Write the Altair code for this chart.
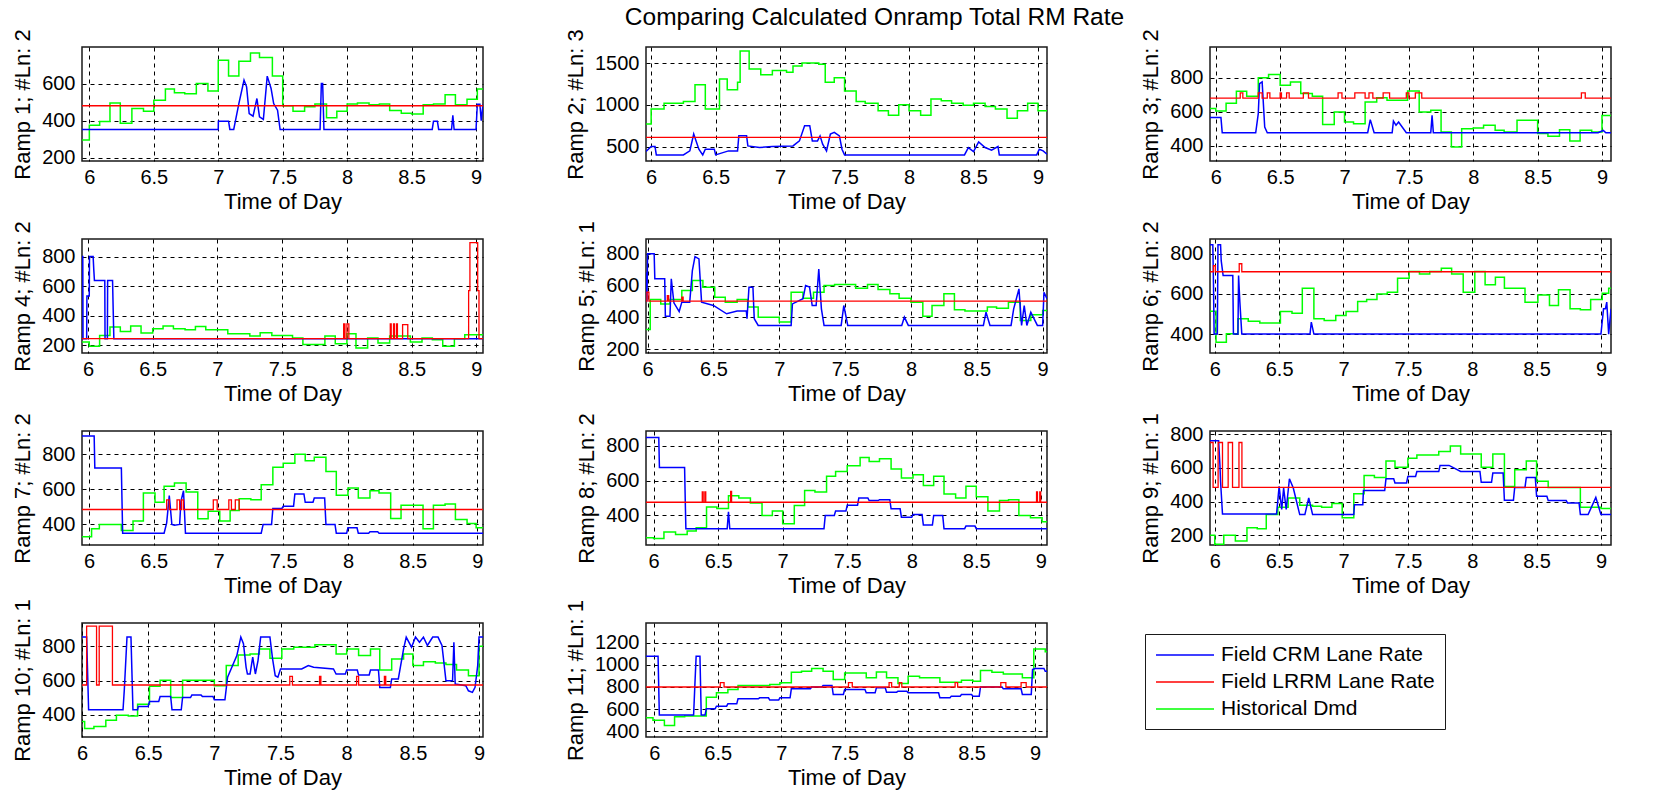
import altair as alt
import pandas as pd

SERIES = ["Field CRM Lane Rate", "Field LRRM Lane Rate", "Historical Dmd"]
COLORS = ["#0000ff", "#ff0000", "#00ff00"]
MAIN_TITLE = "Comparing Calculated Onramp Total RM Rate"
X_TITLE = "Time of Day"
RAMP_TITLES = ["Ramp 1; #Ln: 2", "Ramp 2; #Ln: 3", "Ramp 3; #Ln: 2", "Ramp 4; #Ln: 2",
               "Ramp 5; #Ln: 1", "Ramp 6; #Ln: 2", "Ramp 7; #Ln: 2", "Ramp 8; #Ln: 2",
               "Ramp 9; #Ln: 1", "Ramp 10; #Ln: 1", "Ramp 11; #Ln: 1"]
X_TICKS = [6, 6.5, 7, 7.5, 8, 8.5, 9]
XLIM = [[5.943, 9.054], [5.96, 9.07], [5.955, 9.07], [5.954, 9.051], [5.988, 9.033],
        [5.963, 9.078], [5.946, 9.043], [5.941, 9.048], [5.963, 9.078], [6.0, 9.03],
        [5.935, 9.094]]
YLIM = [[182, 797], [327, 1693], [310, 980], [148, 919], [177, 892], [306, 873],
        [283, 932], [230, 886], [143, 818], [271, 935], [346, 1381]]
YTICKS = [[200, 400, 600], [500, 1000, 1500], [400, 600, 800], [200, 400, 600, 800],
          [200, 400, 600, 800], [400, 600, 800], [400, 600, 800], [400, 600, 800],
          [200, 400, 600, 800], [400, 600, 800], [400, 600, 800, 1000, 1200]]

# ---------------- Ramp 1 ----------------
R1_DMD_T = [5.943, 6.0, 6.08, 6.16, 6.24, 6.33, 6.42, 6.5, 6.59, 6.66, 6.74, 6.83, 6.92, 7.0, 7.08, 7.16,
            7.25, 7.32, 7.42, 7.5, 7.58, 7.67, 7.75, 7.84, 7.92, 8.0, 8.08, 8.17, 8.25, 8.33, 8.42, 8.5,
            8.59, 8.67, 8.76, 8.84, 8.93, 9.01, 9.054]
R1_DMD_V = [295, 375, 395, 495, 385, 465, 450, 510, 570, 550, 545, 600, 560, 725, 640, 720,
            765, 740, 640, 480, 450, 475, 490, 415, 450, 490, 495, 485, 490, 455, 440, 435,
            485, 490, 540, 485, 515, 570, 570]
R1_LRRM_T = [5.943, 9.054]
R1_LRRM_V = [480, 480]
R1_CRM_T = [5.943, 7.0, 7.001, 7.08, 7.09, 7.12, 7.16, 7.2, 7.22, 7.24, 7.27, 7.3, 7.32, 7.35, 7.38, 7.41,
            7.43, 7.46, 7.48, 7.79, 7.8, 7.81, 7.82, 8.66, 8.67, 8.7, 8.71, 8.81, 8.82, 8.83, 9.0, 9.01,
            9.03, 9.04, 9.054]
R1_CRM_V = [352, 352, 397, 397, 352, 352, 492, 618, 582, 438, 424, 519, 420, 406, 640, 573,
            492, 456, 352, 352, 600, 600, 352, 352, 397, 397, 352, 352, 429, 352, 352, 488,
            488, 400, 488]

# ---------------- Ramp 2 ----------------
R2_DMD_T = [5.96, 6.0, 6.1, 6.25, 6.34, 6.42, 6.53, 6.59, 6.67, 6.69, 6.76, 6.85, 6.94, 7.05, 7.1, 7.17,
            7.3, 7.35, 7.42, 7.5, 7.59, 7.66, 7.76, 7.84, 7.92, 8.0, 8.09, 8.17, 8.25, 8.33, 8.42, 8.5,
            8.59, 8.67, 8.76, 8.84, 8.92, 9.0, 9.07]
R2_DMD_V = [770, 950, 1020, 1040, 1240, 950, 1310, 1180, 1270, 1645, 1430, 1360, 1410, 1390, 1465, 1500,
            1485, 1270, 1325, 1165, 1040, 1020, 930, 875, 1000, 930, 875, 1070, 1050, 1020, 995, 1020,
            980, 950, 840, 930, 1020, 930, 930]
R2_LRRM_T = [5.96, 9.07]
R2_LRRM_V = [610, 610]
R2_CRM_T = [5.96, 6.0, 6.03, 6.04, 6.25, 6.3, 6.33, 6.37, 6.4, 6.42, 6.49, 6.5, 6.6, 6.67, 6.68, 6.74,
            6.75, 6.84, 6.94, 7.1, 7.15, 7.19, 7.23, 7.25, 7.29, 7.31, 7.33, 7.36, 7.39, 7.42, 7.46, 7.48,
            7.5, 8.43, 8.46, 8.5, 8.54, 8.59, 8.64, 8.69, 8.7, 8.99, 9.01, 9.04, 9.07]
R2_CRM_V = [440, 500, 500, 400, 400, 448, 650, 468, 400, 468, 468, 400, 448, 448, 630, 630,
            508, 488, 500, 508, 568, 750, 750, 568, 568, 628, 528, 448, 650, 670, 628, 468,
            400, 400, 488, 440, 556, 488, 456, 500, 400, 400, 468, 448, 408]

# ---------------- Ramp 3 ----------------
R3_DMD_T = [5.955, 6.0, 6.08, 6.16, 6.24, 6.33, 6.41, 6.5, 6.58, 6.66, 6.75, 6.83, 6.92, 7.0, 7.07, 7.16,
            7.25, 7.33, 7.49, 7.58, 7.67, 7.75, 7.83, 7.91, 8.0, 8.08, 8.17, 8.24, 8.34, 8.5, 8.58, 8.67,
            8.75, 8.83, 8.92, 9.0, 9.07]
R3_DMD_V = [618, 604, 650, 720, 690, 800, 818, 755, 775, 706, 690, 525, 598, 539, 529, 657,
            682, 667, 722, 598, 608, 480, 392, 500, 504, 520, 490, 480, 549, 471, 455, 494,
            427, 490, 480, 578, 578]
R3_LRRM_T = [5.955, 6.19, 6.21, 6.33, 6.36, 6.4, 6.42, 6.5, 6.51, 6.55, 6.57, 6.68, 6.72, 6.95, 6.98, 7.08,
             7.16, 7.19, 7.22, 7.3, 7.35, 7.48, 7.5, 7.55, 7.6, 8.84, 8.87, 9.07]
R3_LRRM_V = [680, 710, 680, 710, 680, 710, 680, 710, 680, 710, 680, 710, 680, 710, 680, 710,
             680, 710, 680, 710, 680, 710, 680, 710, 680, 710, 680, 680]
R3_CRM_T = [5.955, 6.04, 6.05, 6.31, 6.33, 6.34, 6.36, 6.38, 6.4, 7.18, 7.2, 7.23, 7.37, 7.38, 7.4, 7.42,
            7.48, 7.67, 7.68, 7.69, 8.97, 9.01, 9.03, 9.07]
R3_CRM_V = [565, 565, 476, 476, 588, 765, 775, 510, 476, 476, 553, 476, 476, 545, 520, 539,
            476, 476, 578, 476, 476, 490, 476, 476]

# ---------------- Ramp 4 ----------------
R4_DMD_T = [5.954, 6.01, 6.09, 6.17, 6.25, 6.33, 6.41, 6.5, 6.58, 6.66, 6.75, 6.83, 6.91, 7.08, 7.25, 7.33,
            7.42, 7.58, 7.66, 7.83, 7.91, 8.0, 8.07, 8.16, 8.24, 8.33, 8.49, 8.58, 8.66, 8.74, 8.83, 8.91,
            9.051]
R4_DMD_V = [223, 193, 267, 324, 294, 330, 283, 312, 330, 312, 306, 328, 306, 279, 263, 285,
            267, 249, 205, 263, 211, 279, 182, 249, 216, 263, 223, 249, 238, 193, 245, 272,
            272]
R4_LRRM_T = [5.954, 7.975, 7.985, 8.0, 8.015, 8.335, 8.342, 8.36, 8.367, 8.383, 8.39, 8.43, 8.47, 8.94, 8.95,
             9.01, 9.02, 9.051]
R4_LRRM_V = [245, 345, 245, 345, 245, 345, 245, 345, 245, 345, 245, 340, 245, 570, 895,
             570, 245, 245]
R4_CRM_T = [5.954, 5.96, 5.962, 5.99, 5.992, 6.01, 6.012, 6.04, 6.045, 6.05, 6.13, 6.132, 6.15, 6.152, 6.19,
            6.195, 6.2, 9.051]
R4_CRM_V = [800, 800, 245, 245, 533, 533, 800, 800, 712, 638, 638, 245, 245, 638, 638,
            436, 245, 245]

# ---------------- Ramp 5 ----------------
R5_DMD_T = [5.988, 6.02, 6.1, 6.17, 6.26, 6.34, 6.42, 6.51, 6.59, 6.68, 6.76, 6.84, 7.0, 7.09, 7.18, 7.26,
            7.34, 7.42, 7.58, 7.67, 7.75, 7.84, 7.91, 8.0, 8.09, 8.16, 8.25, 8.33, 8.41, 8.58, 8.65, 8.74,
            8.83, 8.91, 9.0, 9.033]
R5_DMD_V = [325, 513, 485, 513, 569, 631, 590, 527, 496, 513, 465, 402, 371, 558, 521, 558,
            600, 606, 583, 606, 575, 548, 521, 496, 408, 475, 548, 448, 440, 465, 458, 496,
            381, 417, 444, 444]
R5_LRRM_T = [5.988, 5.995, 6.01, 6.15, 6.16, 6.26, 6.27, 9.033]
R5_LRRM_V = [502, 558, 502, 537, 502, 527, 502, 502]
R5_CRM_T = [5.988, 5.995, 6.0, 6.05, 6.055, 6.13, 6.135, 6.17, 6.18, 6.2, 6.24, 6.26, 6.32, 6.34, 6.36, 6.39,
            6.41, 6.5, 6.6, 6.68, 6.75, 6.755, 6.77, 6.8, 6.81, 6.84, 7.09, 7.1, 7.18, 7.2, 7.23, 7.25,
            7.28, 7.3, 7.32, 7.34, 7.47, 7.49, 7.52, 7.93, 7.95, 7.98, 8.55, 8.57, 8.6, 8.76, 8.78, 8.82,
            8.84, 8.86, 8.88, 8.91, 8.96, 9.0, 9.01, 9.033]
R5_CRM_V = [683, 500, 800, 800, 642, 642, 408, 408, 642, 492, 437, 496, 496, 694, 781, 767,
            496, 475, 423, 440, 440, 392, 590, 590, 392, 350, 350, 485, 517, 600, 590, 475,
            475, 704, 454, 350, 350, 475, 350, 350, 402, 350, 350, 433, 350, 350, 454, 579,
            350, 475, 350, 433, 350, 350, 558, 517]

# ---------------- Ramp 6 ----------------
R6_DMD_T = [5.963, 6.01, 6.09, 6.18, 6.26, 6.35, 6.51, 6.6, 6.68, 6.77, 6.85, 6.94, 7.02, 7.11, 7.18, 7.26,
            7.34, 7.42, 7.51, 7.59, 7.67, 7.76, 7.84, 7.93, 8.02, 8.1, 8.18, 8.25, 8.41, 8.51, 8.6, 8.67,
            8.76, 8.84, 8.92, 9.01, 9.06, 9.078]
R6_DMD_V = [514, 360, 402, 476, 464, 455, 512, 504, 628, 476, 468, 493, 512, 562, 572, 600,
            608, 678, 711, 699, 711, 727, 699, 608, 711, 645, 683, 628, 559, 595, 542, 621,
            526, 521, 572, 603, 628, 628]
R6_LRRM_T = [5.963, 5.99, 6.005, 6.19, 6.21, 9.078]
R6_LRRM_V = [710, 740, 710, 750, 710, 710]
R6_CRM_T = [5.963, 5.985, 5.99, 5.995, 6.02, 6.025, 6.045, 6.05, 6.065, 6.14, 6.145, 6.18, 6.185, 6.195,
            6.21, 6.74, 6.75, 6.77, 9.0, 9.02, 9.035, 9.045, 9.06, 9.078]
R6_CRM_V = [845, 845, 650, 400, 400, 845, 845, 765, 691, 691, 400, 400, 691, 559,
            400, 400, 460, 400, 400, 526, 526, 559, 400, 526]

# ---------------- Ramp 7 ----------------
R7_DMD_T = [5.946, 6.02, 6.08, 6.25, 6.34, 6.42, 6.51, 6.58, 6.66, 6.75, 6.84, 6.92, 7.01, 7.09, 7.16, 7.25,
            7.33, 7.42, 7.5, 7.59, 7.67, 7.74, 7.83, 7.91, 8.0, 8.08, 8.17, 8.24, 8.33, 8.41, 8.58, 8.66,
            8.75, 8.83, 8.92, 8.99, 9.043]
R7_DMD_V = [330, 375, 400, 366, 419, 579, 526, 617, 636, 585, 432, 475, 419, 479, 547, 541,
            626, 726, 749, 800, 762, 783, 702, 566, 608, 551, 592, 579, 434, 509, 375, 509,
            517, 428, 406, 381, 381]
R7_LRRM_T = [5.946, 6.6, 6.62, 6.68, 6.7, 6.715, 6.73, 6.96, 6.99, 7.08, 7.1, 7.13, 7.16, 9.043]
R7_LRRM_V = [485, 540, 485, 540, 485, 540, 485, 540, 485, 540, 485, 540, 485, 485]
R7_CRM_T = [5.946, 6.04, 6.045, 6.25, 6.255, 6.26, 6.58, 6.6, 6.62, 6.64, 6.66, 6.7, 6.71, 6.73, 6.745,
            7.33, 7.345, 7.41, 7.42, 7.49, 7.5, 7.58, 7.59, 7.66, 7.67, 7.73, 7.74, 7.82, 7.83, 7.9,
            7.91, 7.99, 8.0, 8.07, 8.08, 8.16, 8.17, 8.23, 8.24, 9.043]
R7_CRM_V = [904, 904, 721, 721, 532, 350, 350, 409, 564, 400, 396, 400, 532, 592, 350,
            350, 400, 400, 491, 491, 504, 504, 574, 574, 526, 526, 551, 551, 400, 400,
            350, 350, 381, 381, 350, 350, 358, 358, 350, 350]

# ---------------- Ramp 8 ----------------
R8_DMD_T = [5.941, 6.0, 6.08, 6.17, 6.26, 6.33, 6.41, 6.49, 6.58, 6.66, 6.75, 6.84, 6.92, 7.0, 7.09, 7.17,
            7.25, 7.34, 7.41, 7.5, 7.6, 7.67, 7.75, 7.84, 7.92, 8.01, 8.09, 8.17, 8.25, 8.34, 8.42, 8.5,
            8.59, 8.68, 8.75, 8.83, 8.92, 9.01, 9.048]
R8_DMD_V = [272, 267, 305, 291, 310, 329, 448, 440, 514, 501, 472, 400, 425, 352, 457, 543,
            535, 625, 653, 686, 733, 710, 726, 667, 615, 634, 573, 625, 524, 501, 568, 507,
            425, 486, 491, 400, 387, 364, 364]
R8_LRRM_T = [5.941, 6.377, 6.384, 6.397, 6.404, 6.597, 6.604, 8.967, 8.974, 8.992, 8.999, 9.048]
R8_LRRM_V = [476, 535, 476, 535, 476, 539, 476, 535, 476, 535, 476, 476]
R8_CRM_T = [5.941, 6.04, 6.045, 6.24, 6.245, 6.25, 6.57, 6.58, 6.59, 7.32, 7.33, 7.4, 7.41, 7.49, 7.5,
            7.58, 7.59, 7.66, 7.67, 7.74, 7.75, 7.83, 7.84, 7.91, 7.92, 8.0, 8.01, 8.08, 8.09, 8.16,
            8.17, 8.24, 8.25, 8.41, 8.42, 8.49, 8.5, 9.048]
R8_CRM_V = [848, 848, 676, 676, 491, 324, 324, 421, 324, 324, 400, 400, 425, 425, 459,
            459, 501, 501, 486, 486, 491, 491, 438, 438, 390, 390, 406, 406, 345, 345,
            400, 400, 324, 324, 339, 339, 324, 324]

# ---------------- Ramp 9 ----------------
R9_DMD_T = [5.963, 6.0, 6.07, 6.16, 6.25, 6.33, 6.4, 6.49, 6.57, 6.66, 6.76, 6.83, 6.91, 6.99, 7.08, 7.16,
            7.24, 7.33, 7.4, 7.5, 7.57, 7.74, 7.83, 7.91, 8.07, 8.16, 8.25, 8.33, 8.42, 8.5, 8.59, 8.84,
            9.0, 9.078]
R9_DMD_V = [200, 147, 200, 167, 245, 239, 323, 367, 422, 378, 372, 367, 388, 304, 447, 555,
            543, 641, 604, 657, 676, 696, 729, 682, 604, 682, 490, 588, 641, 520, 484, 367,
            359, 359]
R9_LRRM_T = [5.963, 5.987, 6.026, 6.06, 6.104, 6.138, 6.188, 6.211, 9.078]
R9_LRRM_V = [750, 484, 750, 484, 750, 484, 750, 484, 484]
R9_CRM_T = [5.963, 6.03, 6.04, 6.045, 6.06, 6.48, 6.5, 6.52, 6.535, 6.555, 6.58, 6.61, 6.66, 6.7, 6.73,
            6.76, 7.08, 7.085, 7.15, 7.155, 7.32, 7.33, 7.39, 7.4, 7.49, 7.5, 7.56, 7.57, 7.74, 7.75,
            7.82, 7.91, 8.06, 8.07, 8.15, 8.16, 8.24, 8.25, 8.32, 8.33, 8.41, 8.42, 8.49, 8.5, 8.58,
            8.59, 8.73, 8.74, 8.83, 8.84, 8.9, 8.96, 9.0, 9.078]
R9_CRM_V = [761, 761, 618, 520, 327, 327, 490, 353, 480, 353, 535, 480, 323, 323, 422,
            323, 323, 382, 382, 465, 465, 535, 535, 510, 510, 549, 549, 578, 578, 614,
            614, 578, 578, 514, 514, 569, 569, 408, 408, 484, 484, 543, 543, 431, 431,
            406, 406, 392, 392, 323, 323, 425, 323, 323]

# ---------------- Ramp 10 ----------------
R10_DMD_T = [6.0, 6.02, 6.09, 6.18, 6.26, 6.35, 6.42, 6.51, 6.59, 6.67, 6.76, 7.0, 7.09, 7.18, 7.27, 7.34,
             7.42, 7.51, 7.6, 7.76, 7.92, 8.0, 8.09, 8.18, 8.25, 8.34, 8.43, 8.5, 8.58, 8.67, 8.75, 8.83,
             8.92, 9.0, 9.03]
R10_DMD_V = [361, 320, 332, 369, 398, 394, 462, 566, 601, 501, 601, 570, 687, 749, 755, 784,
             730, 784, 794, 808, 755, 784, 745, 784, 661, 726, 755, 687, 710, 702, 693, 661,
             628, 800, 800]
R10_LRRM_T = [6.0, 6.035, 6.11, 6.13, 6.23, 7.57, 7.59, 7.795, 7.805, 8.075, 8.09, 8.285, 8.295, 9.03]
R10_LRRM_V = [574, 917, 574, 917, 574, 624, 574, 624, 574, 624, 574, 624, 574, 574]
R10_CRM_T = [6.0, 6.035, 6.05, 6.31, 6.32, 6.34, 6.37, 6.385, 6.42, 6.425, 6.5, 6.51, 6.58, 6.59, 6.67,
             6.68, 6.75, 6.76, 6.82, 6.83, 6.9, 6.91, 6.99, 7.0, 7.08, 7.1, 7.17, 7.2, 7.22, 7.24,
             7.25, 7.27, 7.29, 7.31, 7.33, 7.35, 7.42, 7.44, 7.46, 7.48, 7.5, 7.66, 7.71, 7.75, 7.9,
             7.92, 7.99, 8.0, 8.08, 8.09, 8.17, 8.18, 8.24, 8.25, 8.33, 8.34, 8.39, 8.43, 8.45, 8.49,
             8.52, 8.55, 8.58, 8.61, 8.65, 8.69, 8.72, 8.75, 8.8, 8.81, 8.82, 8.9, 8.92, 8.95, 8.97,
             8.99, 9.0, 9.03]
R10_CRM_V = [853, 853, 429, 429, 550, 853, 853, 429, 429, 449, 449, 478, 478, 507, 507,
             429, 429, 501, 501, 515, 515, 507, 507, 488, 488, 619, 745, 853, 814, 677,
             638, 638, 736, 638, 716, 853, 853, 726, 628, 619, 667, 667, 687, 677, 667,
             638, 638, 661, 661, 632, 632, 661, 661, 560, 560, 609, 609, 784, 853, 794,
             853, 823, 853, 804, 853, 853, 804, 599, 599, 823, 580, 570, 540, 531, 560,
             687, 853, 853]

# ---------------- Ramp 11 ----------------
R11_DMD_T = [5.935, 5.99, 6.08, 6.16, 6.24, 6.41, 6.49, 6.58, 6.66, 6.91, 6.99, 7.08, 7.16, 7.24, 7.33, 7.41,
             7.5, 7.67, 7.75, 7.83, 7.92, 8.0, 8.09, 8.25, 8.42, 8.51, 8.57, 8.66, 8.75, 8.9, 8.99, 9.08,
             9.094]
R11_DMD_V = [521, 497, 451, 530, 536, 708, 747, 777, 814, 823, 838, 934, 943, 968, 943, 868,
             928, 883, 937, 883, 832, 898, 883, 844, 862, 853, 949, 934, 919, 883, 1146, 1121,
             1121]
R11_LRRM_T = [5.935, 6.52, 6.55, 7.53, 7.56, 7.85, 7.87, 7.93, 7.95, 8.37, 8.39, 8.73, 8.77, 8.89, 8.93, 9.094]
R11_LRRM_V = [800, 840, 800, 840, 800, 840, 800, 840, 800, 840, 800, 840, 800, 840, 800, 800]
R11_CRM_T = [5.935, 6.03, 6.04, 6.31, 6.32, 6.33, 6.36, 6.37, 6.4, 6.41, 6.48, 6.49, 6.57, 6.58, 6.65,
             6.66, 6.82, 6.83, 6.9, 6.91, 6.98, 6.99, 7.07, 7.08, 7.23, 7.24, 7.32, 7.33, 7.4, 7.41,
             7.49, 7.5, 7.66, 7.67, 7.74, 7.75, 7.82, 7.83, 7.91, 7.92, 7.99, 8.0, 8.24, 8.25, 8.33,
             8.34, 8.41, 8.42, 8.5, 8.51, 8.56, 8.57, 8.74, 8.75, 8.89, 8.9, 8.97, 8.98, 9.0, 9.07,
             9.08, 9.094]
R11_CRM_V = [1079, 1079, 545, 545, 817, 1079, 1079, 545, 545, 602, 602, 626, 626, 647, 647,
             693, 693, 702, 702, 681, 681, 702, 702, 783, 783, 800, 800, 814, 814, 732,
             732, 777, 777, 747, 747, 793, 793, 753, 753, 762, 762, 747, 747, 702, 702,
             717, 717, 732, 732, 717, 717, 800, 800, 783, 783, 732, 732, 958, 968, 968,
             943, 943]

PANELS = [
    (R1_CRM_T, R1_CRM_V, R1_LRRM_T, R1_LRRM_V, R1_DMD_T, R1_DMD_V),
    (R2_CRM_T, R2_CRM_V, R2_LRRM_T, R2_LRRM_V, R2_DMD_T, R2_DMD_V),
    (R3_CRM_T, R3_CRM_V, R3_LRRM_T, R3_LRRM_V, R3_DMD_T, R3_DMD_V),
    (R4_CRM_T, R4_CRM_V, R4_LRRM_T, R4_LRRM_V, R4_DMD_T, R4_DMD_V),
    (R5_CRM_T, R5_CRM_V, R5_LRRM_T, R5_LRRM_V, R5_DMD_T, R5_DMD_V),
    (R6_CRM_T, R6_CRM_V, R6_LRRM_T, R6_LRRM_V, R6_DMD_T, R6_DMD_V),
    (R7_CRM_T, R7_CRM_V, R7_LRRM_T, R7_LRRM_V, R7_DMD_T, R7_DMD_V),
    (R8_CRM_T, R8_CRM_V, R8_LRRM_T, R8_LRRM_V, R8_DMD_T, R8_DMD_V),
    (R9_CRM_T, R9_CRM_V, R9_LRRM_T, R9_LRRM_V, R9_DMD_T, R9_DMD_V),
    (R10_CRM_T, R10_CRM_V, R10_LRRM_T, R10_LRRM_V, R10_DMD_T, R10_DMD_V),
    (R11_CRM_T, R11_CRM_V, R11_LRRM_T, R11_LRRM_V, R11_DMD_T, R11_DMD_V),
]

FONT = "Liberation Sans"
PANEL_W = 401
PANEL_H = 114


def make_panel(i, series):
    crm_t, crm_v, lr_t, lr_v, dm_t, dm_v = series
    rows = []
    for name, ts, vs in ((SERIES[0], crm_t, crm_v), (SERIES[1], lr_t, lr_v), (SERIES[2], dm_t, dm_v)):
        for k, (t, v) in enumerate(zip(ts, vs)):
            rows.append({"t": t, "v": v, "s": name, "k": k})
    df = pd.DataFrame(rows)

    color = alt.Color(
        "s:N",
        scale=alt.Scale(domain=SERIES, range=COLORS),
        legend=alt.Legend(
            title=None, orient="none", legendX=1063, legendY=587, direction="vertical",
            symbolType="M-2.9,0H2.9", symbolSize=400, symbolOffset=19, symbolStrokeWidth=1.5,
            labelOffset=25, labelFontSize=21, labelFont=FONT, labelColor="black",
            padding=10, rowPadding=6, strokeColor="#1a1a1a", fillColor="white",
            labelLimit=400,
        ),
    )
    x = alt.X(
        "t:Q",
        scale=alt.Scale(domain=XLIM[i], nice=False, zero=False),
        axis=alt.Axis(values=X_TICKS, format="~g", title=X_TITLE, labelPadding=6, titlePadding=4),
    )
    y = alt.Y(
        "v:Q",
        scale=alt.Scale(domain=YLIM[i], nice=False, zero=False),
        axis=alt.Axis(values=YTICKS[i], format="d", title=RAMP_TITLES[i], labelPadding=7, titlePadding=7),
    )
    base = alt.Chart(df).encode(x=x, y=y, color=color, order=alt.Order("k:Q"))
    dmd = base.transform_filter(alt.datum.s == SERIES[2]).mark_line(
        interpolate="step-after", clip=True, strokeWidth=1.5)
    crm = base.transform_filter(alt.datum.s == SERIES[0]).mark_line(
        interpolate="linear", clip=True, strokeWidth=1.5)
    lrrm = base.transform_filter(alt.datum.s == SERIES[1]).mark_line(
        interpolate="step-after", clip=True, strokeWidth=1.3)
    props = dict(width=PANEL_W, height=PANEL_H)
    if i == 1:
        props["title"] = alt.TitleParams(MAIN_TITLE, anchor="middle", dx=28, offset=-2,
                                         fontSize=24.5, fontWeight="normal", font=FONT, color="black")
    return alt.layer(dmd, crm, lrrm).properties(**props)


panels = [make_panel(i, s) for i, s in enumerate(PANELS)]

chart = (
    alt.concat(*panels, columns=3, spacing={"row": 78, "column": 163}, bounds="flush")
    .resolve_scale(x="independent", y="independent", color="shared")
    .properties(padding={"left": 10, "top": 4, "right": 5, "bottom": 5}, background="white")
    .configure(font=FONT)
    .configure_view(stroke="#1a1a1a", strokeWidth=1.5)
    .configure_axis(
        grid=True, gridColor="black", gridDash=[4, 4], gridOpacity=1, gridWidth=1,
        domain=False, ticks=False, labelFontSize=20, titleFontSize=22,
        labelColor="black", titleColor="black", titleFontWeight="normal",
        labelFont=FONT, titleFont=FONT, labelFlush=False, labelOverlap=False,
    )
)

chart.save("out.html", embed_options={"renderer": "svg", "actions": False})
